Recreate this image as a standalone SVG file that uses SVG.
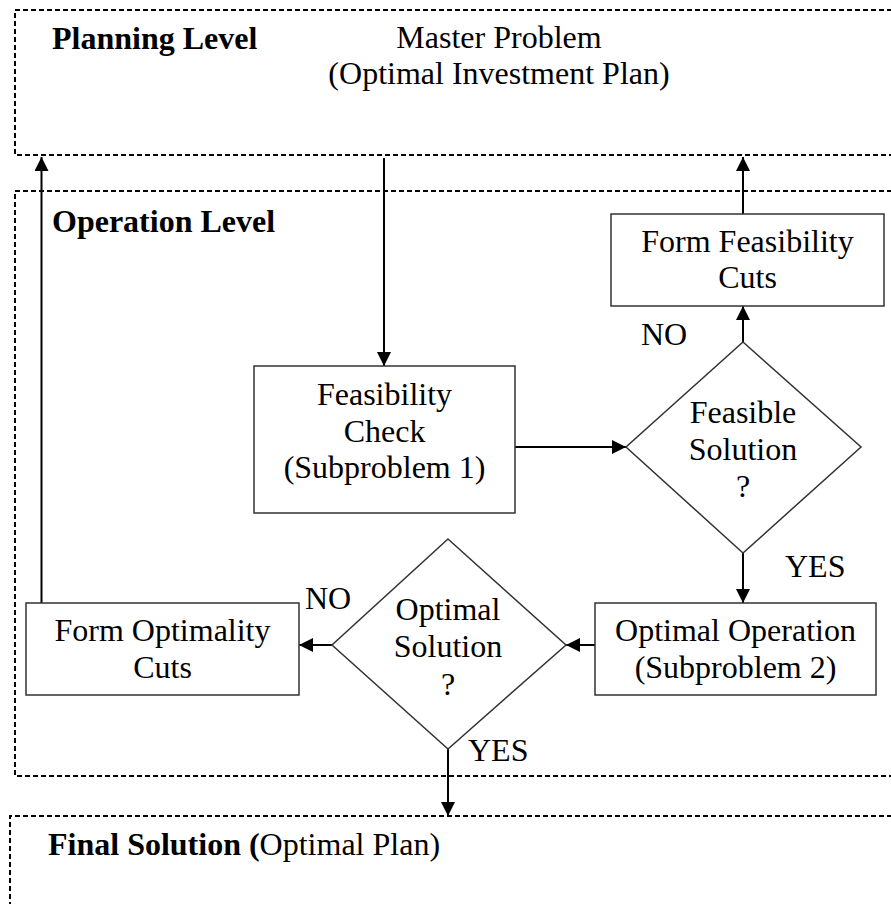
<svg xmlns="http://www.w3.org/2000/svg" width="891" height="904" viewBox="0 0 891 904">
  <style>
    .txt { font-family: "Liberation Serif", "Times New Roman", serif; font-size: 32px; fill: #000; }
    .mid { text-anchor: middle; }
    .bold { font-weight: bold; }
    .level { fill: none; stroke: #000; stroke-width: 2; stroke-dasharray: 5 3; }
    .box { fill: #fff; stroke: #333; stroke-width: 1.5; }
    .edge { fill: none; stroke: #000; stroke-width: 2; }
  </style>
  <defs>
    <marker id="arrow" viewBox="0 0 14 14" refX="14" refY="7" markerWidth="14" markerHeight="14" markerUnits="userSpaceOnUse" orient="auto">
      <path d="M0,0 L14,7 L0,14 Z" fill="#000"/>
    </marker>
  </defs>

  <rect width="891" height="904" fill="#fff"/>

  <!-- Planning level region -->
  <g id="planning-level">
    <path class="level" d="M900,10 H15 V155 H900"/>
    <text class="txt bold" x="52" y="49">Planning Level</text>
    <text class="txt mid" x="499" y="48">Master Problem</text>
    <text class="txt mid" x="499" y="84">(Optimal Investment Plan)</text>
  </g>

  <!-- Operation level region -->
  <g id="operation-level">
    <path class="level" d="M900,191 H15 V776 H900"/>
    <text class="txt bold" x="52" y="232">Operation Level</text>
  </g>

  <!-- Final solution region -->
  <g id="final-solution">
    <path class="level" d="M900,816 H10 V910"/>
    <text class="txt" x="48" y="855"><tspan class="bold">Final Solution (</tspan>Optimal Plan)</text>
  </g>

  <!-- Connectors -->
  <g id="connectors">
    <line class="edge" x1="384" y1="158" x2="384" y2="366" marker-end="url(#arrow)"/>
    <line class="edge" x1="515" y1="447" x2="626" y2="447" marker-end="url(#arrow)"/>
    <line class="edge" x1="743" y1="342" x2="743" y2="306" marker-end="url(#arrow)"/>
    <line class="edge" x1="743" y1="214" x2="743" y2="157" marker-end="url(#arrow)"/>
    <line class="edge" x1="743" y1="553" x2="743" y2="603" marker-end="url(#arrow)"/>
    <line class="edge" x1="595" y1="645" x2="566" y2="645" marker-end="url(#arrow)"/>
    <line class="edge" x1="332" y1="645" x2="299" y2="645" marker-end="url(#arrow)"/>
    <line class="edge" x1="41.5" y1="603" x2="41.5" y2="157" marker-end="url(#arrow)"/>
    <line class="edge" x1="448" y1="749" x2="448" y2="816" marker-end="url(#arrow)"/>
  </g>

  <g id="feasibility-check">
    <rect class="box" x="254" y="366" width="261" height="147"/>
    <text class="txt mid" x="384.5" y="405">Feasibility</text>
    <text class="txt mid" x="384.5" y="442">Check</text>
    <text class="txt mid" x="384.5" y="478">(Subproblem 1)</text>
  </g>

  <g id="feasible-solution">
    <polygon class="box" points="743,342 861,447 743,553 626,447"/>
    <text class="txt mid" x="743" y="423">Feasible</text>
    <text class="txt mid" x="743" y="460">Solution</text>
    <text class="txt mid" x="743" y="497">?</text>
  </g>

  <g id="form-feasibility-cuts">
    <rect class="box" x="611" y="214" width="273" height="92"/>
    <text class="txt mid" x="747.5" y="252">Form Feasibility</text>
    <text class="txt mid" x="747.5" y="288">Cuts</text>
  </g>

  <g id="optimal-operation">
    <rect class="box" x="595" y="603" width="281" height="92"/>
    <text class="txt mid" x="735.5" y="641">Optimal Operation</text>
    <text class="txt mid" x="735.5" y="678">(Subproblem 2)</text>
  </g>

  <g id="optimal-solution">
    <polygon class="box" points="448,539 566,645 448,749 332,645"/>
    <text class="txt mid" x="448" y="620">Optimal</text>
    <text class="txt mid" x="448" y="657">Solution</text>
    <text class="txt mid" x="448" y="695">?</text>
  </g>

  <g id="form-optimality-cuts">
    <rect class="box" x="26" y="603" width="273" height="92"/>
    <text class="txt mid" x="162.5" y="641">Form Optimality</text>
    <text class="txt mid" x="162.5" y="678">Cuts</text>
  </g>

  <!-- Branch labels -->
  <g id="branch-labels">
    <text class="txt" x="641" y="345">NO</text>
    <text class="txt" x="785" y="577">YES</text>
    <text class="txt" x="305" y="609">NO</text>
    <text class="txt" x="468" y="761">YES</text>
  </g>
</svg>
